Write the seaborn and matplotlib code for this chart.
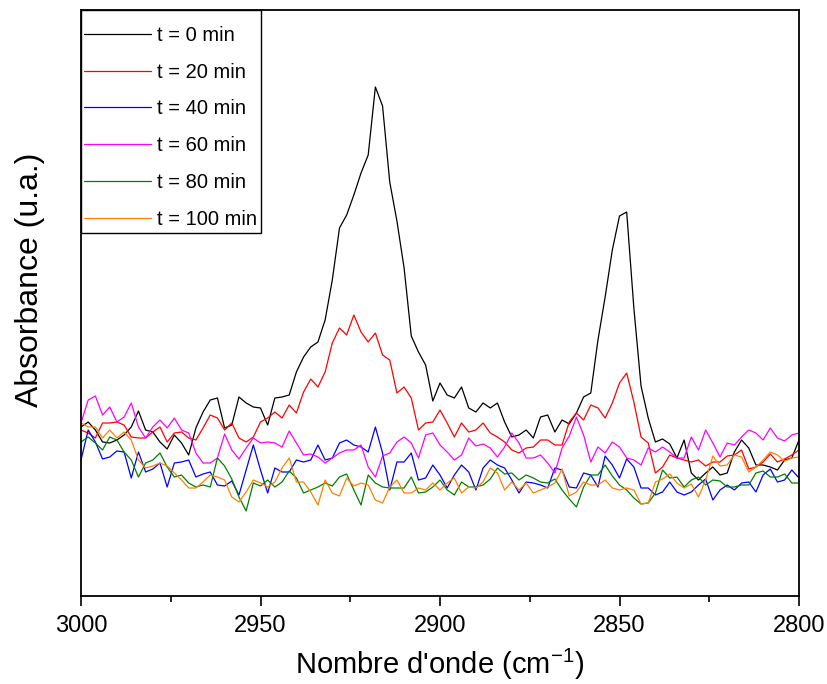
import numpy as np
import pandas as pd
import matplotlib
matplotlib.use("Agg")
import matplotlib.pyplot as plt
from matplotlib.ticker import MultipleLocator
from matplotlib.patches import Rectangle
import seaborn as sns

# Wavenumbers (cm-1), sampled every 2 cm-1 from 3000 to 2800
wavenumber = np.arange(3000, 2799, -2)

labels = ["t = 0 min", "t = 20 min", "t = 40 min", "t = 60 min", "t = 80 min", "t = 100 min"]

# Absorbance (arbitrary units)
t0 = [171,176,168,156,155,158,163,171,187,168,166,156,149,163,155,143,170,186,198,200,
      170,173,201,195,191,190,173,200,201,203,226,241,251,256,278,318,370,383,403,425,
      443,511,492,416,377,330,262,246,233,197,215,203,200,211,190,186,195,190,195,176,
      161,163,168,160,181,183,166,178,174,185,201,205,258,301,348,382,386,290,212,180,
      156,159,154,140,158,125,118,125,131,123,125,146,158,150,133,133,131,128,138,140,158]
t20 = [168,165,160,175,175,176,173,161,160,160,166,171,156,165,166,160,158,170,183,180,
       168,175,160,156,161,176,180,186,180,193,185,206,219,211,226,255,270,263,283,266,
       256,265,243,238,205,211,200,168,175,176,188,175,161,175,166,168,175,165,161,156,
       148,145,150,151,158,158,153,153,176,185,178,193,190,180,195,215,225,196,161,155,
       125,131,143,140,138,136,138,132,136,136,142,143,148,129,131,136,144,136,139,143,148]
t40 = [138,168,156,139,141,147,146,120,146,126,129,135,111,135,136,138,121,124,126,113,
       112,117,103,128,153,128,105,130,126,126,138,136,138,153,138,140,155,158,153,151,
       146,171,145,108,136,136,145,118,120,133,123,110,123,133,126,108,130,138,133,130,
       118,105,116,115,113,110,130,128,111,110,125,123,111,142,133,120,139,131,110,110,
       103,106,116,106,103,106,113,119,98,108,113,108,115,116,106,123,129,116,118,128,120]
t60 = [175,198,202,183,191,176,181,195,171,160,171,178,170,180,168,165,145,135,135,140,
       164,148,139,150,160,155,156,155,151,167,155,143,144,141,135,140,145,148,148,153,
       131,121,142,145,156,161,155,140,163,165,153,146,138,143,160,152,154,150,141,151,
       165,155,140,140,143,135,125,150,162,181,163,136,151,145,156,151,140,138,133,150,
       146,151,146,140,140,161,148,168,155,141,155,153,161,168,165,158,170,160,157,163,165]
t80 = [156,161,155,148,161,158,146,138,121,135,138,145,131,121,123,115,111,113,111,140,
       132,119,101,87,115,112,118,111,116,127,120,105,108,111,115,112,121,124,108,93,
       123,115,111,110,110,110,121,105,106,111,118,108,103,116,111,111,113,119,130,124,
       125,118,123,120,116,115,119,108,99,91,111,123,123,133,122,113,108,100,94,95,
       105,128,120,121,111,118,121,113,118,117,111,111,113,113,125,127,121,121,124,115,115]
t100 = [175,171,171,160,168,160,166,158,138,130,132,135,132,125,118,110,110,116,123,121,
        118,101,96,106,118,115,111,116,130,140,116,116,106,93,118,105,102,120,112,115,
        113,98,95,111,118,105,105,110,108,115,108,115,120,105,111,110,116,130,125,108,
        116,108,115,105,108,111,115,129,102,106,116,113,113,118,110,108,110,108,94,95,
        116,119,124,115,110,114,101,118,142,132,133,143,141,126,131,138,146,143,137,140,141]

colors = ["#000000", "#FF0000", "#0000FF", "#FF00FF", "#008000", "#FF8000"]

series = [t0, t20, t40, t60, t80, t100]
df = pd.concat(
    [pd.DataFrame({"wn": wavenumber, "abs": s, "t": lab}) for s, lab in zip(series, labels)],
    ignore_index=True,
)

sns.set_theme(style="white")
plt.rcParams["font.family"] = ["Liberation Sans", "DejaVu Sans"]
plt.rcParams["mathtext.fontset"] = "custom"
plt.rcParams["mathtext.rm"] = "Liberation Sans"
plt.rcParams["mathtext.default"] = "regular"
for key in ["text.color", "axes.labelcolor", "xtick.color", "ytick.color", "axes.edgecolor"]:
    plt.rcParams[key] = "black"

fig = plt.figure(figsize=(8.28, 6.84), dpi=100)
ax = fig.add_axes([81 / 828, 1 - 596 / 684, (799 - 81) / 828, (596 - 10) / 684])

sns.lineplot(data=df, x="wn", y="abs", hue="t", palette=colors, hue_order=labels,
             linewidth=0.9, ax=ax, estimator=None, sort=False)

ax.set_xlim(3000, 2800)
ax.set_ylim(2, 588)
ax.xaxis.set_major_locator(MultipleLocator(50))
ax.xaxis.set_minor_locator(MultipleLocator(25))
ax.set_yticks([])
ax.tick_params(axis="x", which="major", direction="out", length=7, width=1.2,
               color="black", labelcolor="black", labelsize=17, pad=7, bottom=True, top=False)
ax.tick_params(axis="x", which="minor", direction="out", length=4, width=1.2,
               color="black", bottom=True, top=False)
for sp in ax.spines.values():
    sp.set_color("black")
    sp.set_linewidth(1.3)

ax.set_xlabel("Nombre d'onde (cm$^{-1}$)", fontsize=21, labelpad=7, color="black")
ax.set_ylabel("Absorbance (u.a.)", fontsize=23, color="black")
ax.yaxis.set_label_coords(-0.05, 0.539)

# legend box (frame drawn separately to match the reference's padding)
ax.add_patch(Rectangle((0, (596 - 233) / 586), (261 - 81) / 718, (233 - 10) / 586,
                       transform=ax.transAxes, facecolor="white", edgecolor="black",
                       linewidth=1.0, zorder=4, clip_on=False))
leg = ax.legend(loc="upper left", bbox_to_anchor=(-4 / 718, 1 - 9 / 586), borderaxespad=0,
                fontsize=14.5, handlelength=3.3, handletextpad=0.3,
                labelspacing=0.88, borderpad=0.35, frameon=False, title=None)
leg.set_zorder(5)
for line in leg.get_lines():
    line.set_linewidth(0.9)
for txt in leg.get_texts():
    txt.set_color("black")

fig.savefig("out.png", dpi=100)
